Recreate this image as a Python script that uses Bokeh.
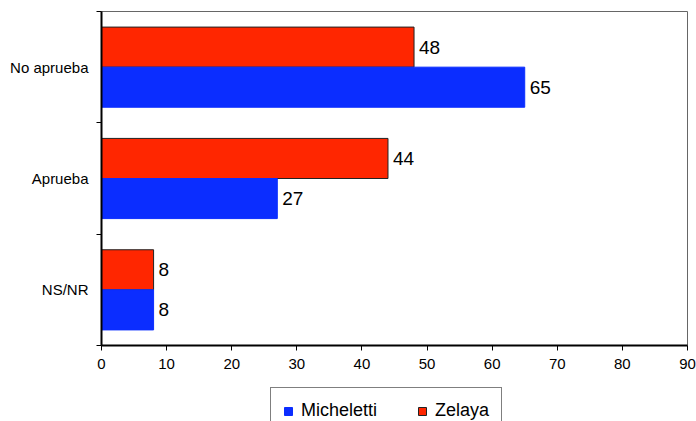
from bokeh.plotting import figure
from bokeh.models import ColumnDataSource, FixedTicker, Legend, LegendItem, Range1d
from bokeh.layouts import column
from bokeh.core.properties import value
from bokeh.embed import file_html
from bokeh.resources import INLINE

categories = ["No aprueba", "Aprueba", "NS/NR"]
micheletti = [65, 27, 8]
zelaya = [48, 44, 8]
x_ticks = [0, 10, 20, 30, 40, 50, 60, 70, 80, 90]
series_names = ["Micheletti", "Zelaya"]

FONT = "Liberation Sans"
RED = "#FF2600"
BLUE = "#0B2DFF"

n = len(categories)
y_center = [n - i - 0.5 for i in range(n)]
y_bounds = [float(i) for i in range(n + 1)]

src = ColumnDataSource(dict(
    cat=categories,
    y=y_center,
    y_z=[y + 0.18 for y in y_center],
    y_m=[y - 0.18 for y in y_center],
    mich=micheletti,
    zel=zelaya,
    mich_t=[str(v) for v in micheletti],
    zel_t=[str(v) for v in zelaya],
))

p = figure(frame_width=586, frame_height=334,
           x_range=Range1d(0, 90), y_range=Range1d(0, n),
           output_backend="svg", toolbar_location=None,
           min_border_left=101, min_border_right=9, min_border_top=11, min_border_bottom=40)

p.background_fill_color = "white"
p.border_fill_color = "white"
p.outline_line_color = "#666666"
p.outline_line_width = 1
p.xgrid.visible = False
p.ygrid.visible = False

zel_style = dict(fill_color=RED, line_color="#222222", line_width=1)
mich_style = dict(fill_color=BLUE, line_color=BLUE, line_width=1)

p.hbar(y="y_z", left=0, right="zel", height=0.36, source=src, **zel_style)
p.hbar(y="y_m", left=0, right="mich", height=0.36, source=src, **mich_style)

p.text(x="zel", y="y_z", text="zel_t", source=src, x_offset=5,
       text_baseline="middle", text_align="left", text_font_size="19px",
       text_font=value(FONT), text_color="black")
p.text(x="mich", y="y_m", text="mich_t", source=src, x_offset=5,
       text_baseline="middle", text_align="left", text_font_size="19px",
       text_font=value(FONT), text_color="black")

xa = p.xaxis[0]
xa.ticker = FixedTicker(ticks=x_ticks)
xa.axis_line_color = "black"
xa.axis_line_width = 2
xa.major_tick_out = 5
xa.major_tick_in = 0
xa.major_tick_line_color = "black"
xa.major_tick_line_width = 1
xa.minor_tick_line_color = None
xa.major_label_standoff = 8
xa.major_label_text_font = FONT
xa.major_label_text_font_size = "15px"
xa.major_label_text_color = "black"

ya = p.yaxis[0]
ya.ticker = FixedTicker(ticks=y_center, minor_ticks=y_bounds)
ya.major_label_overrides = {y: c for y, c in zip(y_center, categories)}
ya.axis_line_color = "black"
ya.axis_line_width = 2
ya.major_tick_line_color = None
ya.major_tick_out = 5
ya.major_tick_in = 0
ya.minor_tick_line_color = "black"
ya.minor_tick_line_width = 1
ya.minor_tick_out = 5
ya.minor_tick_in = 0
ya.major_label_standoff = 8
ya.major_label_text_font = FONT
ya.major_label_text_font_size = "15px"
ya.major_label_text_color = "black"

# legend strip below the chart (same series, bars kept out of view)
lf = figure(frame_width=696, frame_height=36,
            x_range=Range1d(0, 90), y_range=Range1d(100, 101),
            x_axis_type=None, y_axis_type=None,
            output_backend="svg", toolbar_location=None,
            min_border_left=0, min_border_right=0, min_border_top=0, min_border_bottom=0)
lf.outline_line_color = None
lf.background_fill_color = "white"
lf.border_fill_color = "white"
lf.xgrid.visible = False
lf.ygrid.visible = False
lm = lf.hbar(y="y_m", left=0, right="mich", height=0.36, source=src, **mich_style)
lz = lf.hbar(y="y_z", left=0, right="zel", height=0.36, source=src, **zel_style)

legend = Legend(items=[LegendItem(label=series_names[0], renderers=[lm]),
                       LegendItem(label=series_names[1], renderers=[lz])],
                orientation="horizontal", location=(270, -13))
legend.glyph_width = 10
legend.glyph_height = 10
legend.label_standoff = 8
legend.spacing = 40
legend.padding = 12
legend.margin = 0
legend.label_text_font = FONT
legend.label_text_font_size = "18px"
legend.label_text_color = "black"
legend.border_line_color = "black"
legend.border_line_width = 1
legend.background_fill_color = "white"
legend.background_fill_alpha = 1
lf.add_layout(legend)

layout = column(p, lf, spacing=0)
open("out.html", "w").write(file_html(layout, INLINE))
